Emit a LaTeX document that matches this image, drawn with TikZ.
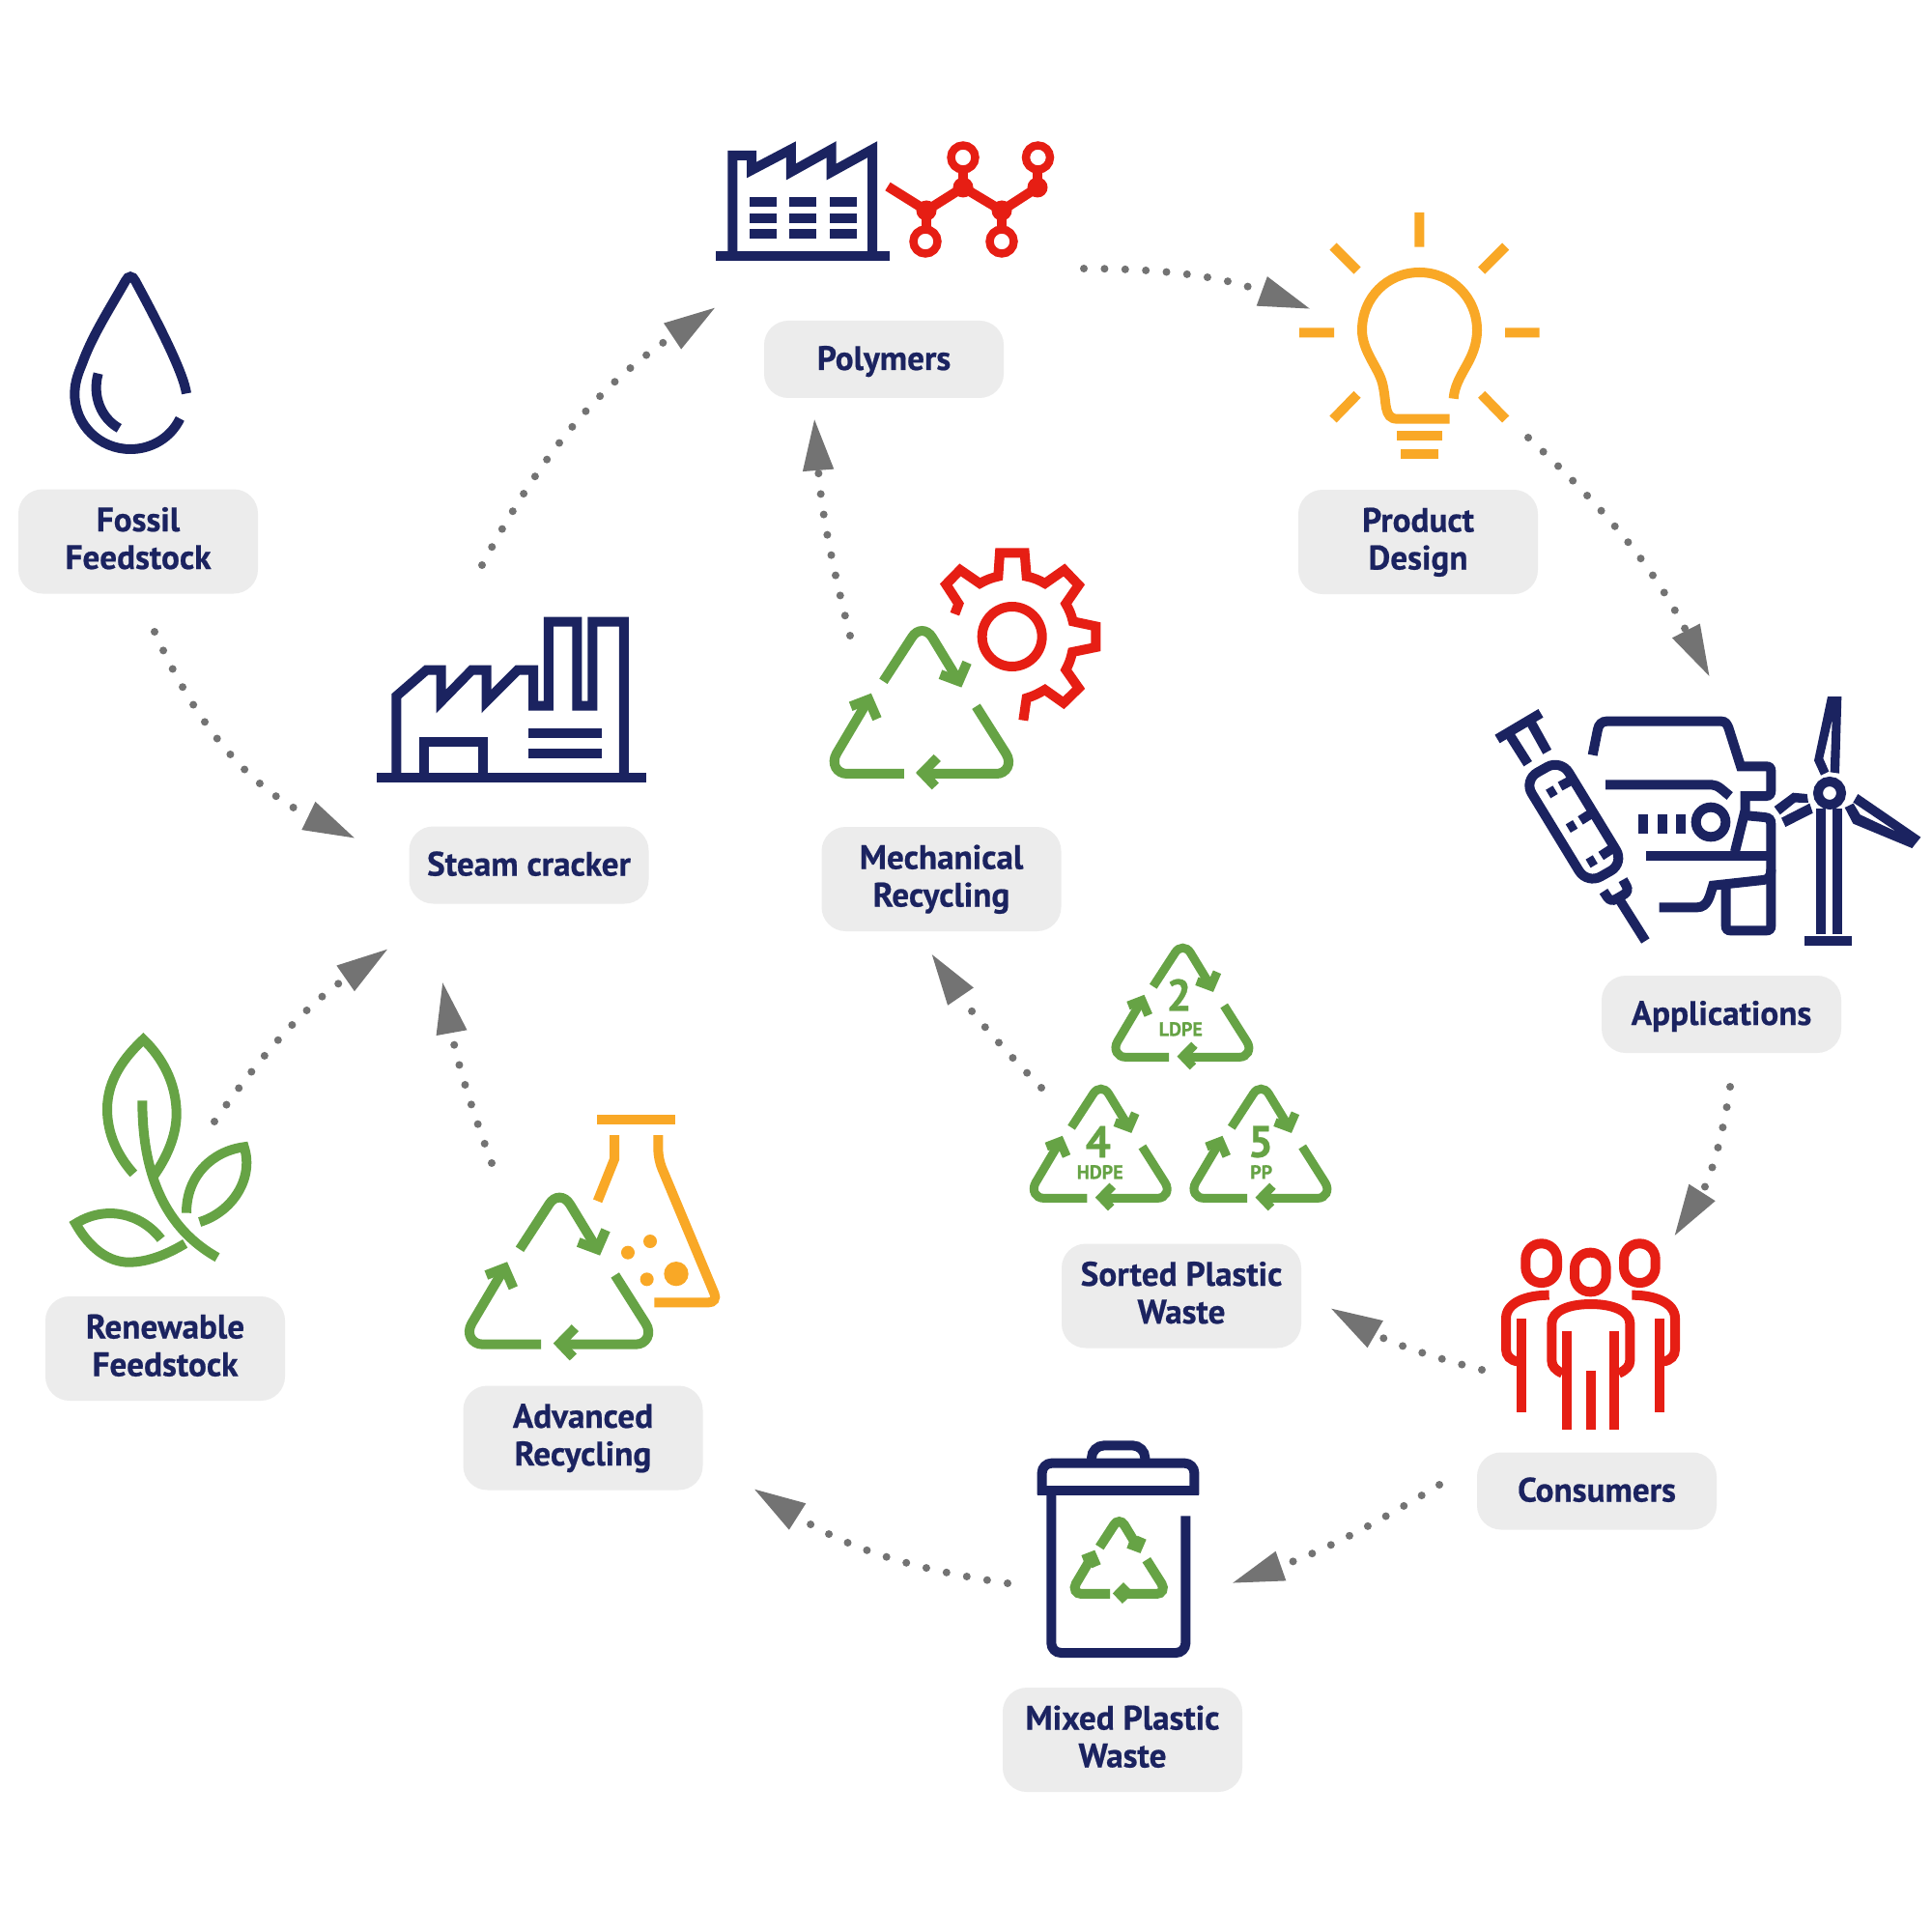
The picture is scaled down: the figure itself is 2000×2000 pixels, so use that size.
\documentclass[tikz,border=0pt]{standalone}
\usepackage{fontspec}
\setmainfont{PT Sans}[BoldFeatures={FakeBold=0.6}]
\usetikzlibrary{arrows.meta}
\definecolor{navy}{HTML}{1B2360}
\definecolor{redc}{HTML}{E61E14}
\definecolor{orng}{HTML}{F9A826}
\definecolor{grn}{HTML}{66A345}
\definecolor{boxg}{HTML}{ECECEC}
\definecolor{arrg}{HTML}{737373}
\tikzset{
  lab/.style={fill=boxg,rounded corners=12.5pt,text=navy,align=center,inner sep=0pt,
    minimum width=124pt,font=\bfseries\fontsize{17.6pt}{19.5pt}\selectfont},
  labone/.style={lab,minimum height=40pt,text height=13pt,text depth=2pt},
  labtwo/.style={lab,minimum height=54pt,text height=31.5pt,text depth=3pt},
  icon/.style={line width=5pt,line join=miter,line cap=butt,miter limit=10},
  zoomed/.style={shift={(#1)},scale=0.33333},
  flow/.style={draw=arrg,line width=4pt,line cap=round,dash pattern=on 0pt off 10.7pt,
    -{Triangle[length=27pt,width=15pt,fill=arrg]}},
  numtxt/.style={text=grn,inner sep=0pt,font=\bfseries\fontsize{23pt}{23pt}\selectfont},
  codetxt/.style={text=grn,inner sep=0pt,font=\bfseries\fontsize{10pt}{10pt}\selectfont}
}
\newcommand\recyc[4]{%
\begin{scope}[shift={(#1,#2)},scale=#3,icon,draw=grn,line width=#4pt]
\draw (-122,162) -- (-31,22) .. controls (-14,-6) and (17,-6) .. (34,22) -- (119,162);
\draw (60,140) -- (119,162) -- (145,102);
\draw (174,242) -- (269,392) .. controls (290,425) and (270,457) .. (239,457) -- (3,457);
\draw (50,406) -- (3,454) -- (44,497);
\draw (-56,457) -- (-238,457) .. controls (-270,457) and (-290,425) .. (-271,392) -- (-169,220);
\draw (-226,242) -- (-169,220) -- (-142,282);
\end{scope}}
\begin{document}
\begin{tikzpicture}[x=0.5pt,y=-0.5pt]
\useasboundingbox (0,0) rectangle (2000,2000);
\fill[white] (0,0) rectangle (2000,2000);

% labels
\node[labone] (polymers) at (915,372) {Polymers};
\node[labtwo] (fossil) at (143,560.5) {Fossil\\Feedstock};
\node[labtwo] (design) at (1468,561) {Product\\Design};
\node[labone] (apps) at (1782,1050) {Applications};
\node[labone] (consumers) at (1653,1543.5) {Consumers};
\node[labtwo] (sorted) at (1223,1341.5) {Sorted Plastic\\Waste};
\node[labtwo] (mixed) at (1162,1801) {Mixed Plastic\\Waste};
\node[labtwo] (advanced) at (603.5,1488.5) {Advanced\\Recycling};
\node[labtwo] (renew) at (171,1396) {Renewable\\Feedstock};
\node[labone] (steam) at (547.5,895.5) {Steam cracker};
\node[labtwo] (mech) at (974.5,910) {Mechanical\\Recycling};

% polymer factory
\begin{scope}[shift={(700,120)},xscale=0.4464,yscale=0.33333,icon,draw=navy,fill=navy]
\draw (92,435) -- (496,435);
\draw (131,425) -- (131,123) -- (175,123) -- (175,168) -- (266,104) -- (266,174) -- (360,104) -- (360,174) -- (455,104) -- (455,425);
\foreach \xa in {170,263,357}
  \foreach \ya in {253,303,352}
    \fill[draw=none] (\xa,\ya) rectangle ++(62,29);
\end{scope}
% molecule
\begin{scope}[icon,draw=redc]
\draw (919,193) -- (959,218) -- (997,194) -- (1037,218) -- (1074,194);
\draw (959,218) -- (959,236) (997,194) -- (997,176) (1037,218) -- (1037,236) (1074,194) -- (1074,176);
\fill[redc] (959,218) circle[radius=10.5] (997,194) circle[radius=10.5] (1037,218) circle[radius=10.5] (1074,194) circle[radius=10.5];
\draw[line width=4.2pt] (958,250) circle[radius=12.5] (1037,250) circle[radius=12.5] (997,163) circle[radius=12.5] (1074.5,163) circle[radius=12.5];
\end{scope}

% drop
\begin{scope}[zoomed={50,260},icon,draw=navy]
\draw (429,442) .. controls (420,380) and (350,240) .. (270,92) .. controls (262,75) and (248,75) .. (240,92) .. controls (190,180) and (135,265) .. (105,350) .. controls (88,390) and (82,415) .. (82,445) .. controls (82,540) and (160,615) .. (255,615) .. controls (320,615) and (380,580) .. (409,520);
\draw (155,380) .. controls (135,450) and (165,520) .. (220,550);
\end{scope}

% bulb
\begin{scope}[zoomed={1330,210},icon,draw=orng]
\draw (418,30) -- (418,137) (150,135) -- (225,210) (686,135) -- (611,210) (45,403) -- (153,403) (684,403) -- (791,403) (225,595) -- (150,672) (611,595) -- (686,672);
\draw (524,608) .. controls (530,530) and (597,490) .. (597,395) .. controls (597,295) and (518,216) .. (418,216) .. controls (318,216) and (240,295) .. (240,395) .. controls (240,460) and (290,510) .. (303,560) .. controls (318,620) and (305,671) .. (350,671) -- (512,671);
\draw (348,722) -- (488,722) (360,780) -- (476,780);
\end{scope}

% steam cracker
\begin{scope}[shift={(370,600)},xscale=0.51,yscale=0.33333,icon,draw=navy]
\draw (39,616) -- (586,616);
\draw (79,605) -- (79,362) -- (140,281) -- (170,281) -- (170,378) -- (232,281) -- (262,281) -- (262,378) -- (325,281) -- (357,281) -- (357,392) -- (388,392) -- (388,131) -- (446,131) -- (446,392) -- (477,392) -- (477,131) -- (541,131) -- (541,605);
\draw (135,605) -- (135,503) -- (255,503) -- (255,605);
\draw (347,478) -- (497,478) (347,539) -- (497,539);
\end{scope}

% mechanical recycling
\recyc{954}{652.7}{0.3245}{5}
\begin{scope}[zoomed={960,560},icon,draw=redc]
\draw (85,227) -- (97,195) -- (58,135) -- (102,90) -- (163,132) .. controls (180,122) and (200,114) .. (220,110) -- (225,37) -- (302,37) -- (308,110) .. controls (330,114) and (348,122) .. (365,132) -- (425,90) -- (470,137) -- (430,195) .. controls (440,212) and (448,230) .. (452,250) -- (523,265) -- (523,330) -- (450,345) .. controls (446,365) and (440,382) .. (430,400) -- (470,457) -- (423,503) -- (365,462) .. controls (348,472) and (330,482) .. (308,488) -- (298,557);
\draw (263,297) circle[radius=93];
\end{scope}

% applications
\begin{scope}[zoomed={1530,700},icon,draw=navy]
% syringe
\draw (60,195) -- (195,115);
\draw (100,185) -- (155,272) (165,145) -- (215,235);
\draw[rounded corners=8pt] (142,323) -- (257,258) -- (454,581) -- (339,646) -- cycle;
\draw (255,342) -- (305,315) (318,448) -- (362,420) (382,558) -- (425,530);
\draw (218,366) -- (240,353) (280,473) -- (302,460) (342,582) -- (364,569);
\draw[rounded corners=3pt] (390,668) -- (412,702) -- (470,668) -- (450,632);
\draw (440,695) -- (520,822);
% car
\draw (356,245) -- (372,165) .. controls (375,150) and (385,140) .. (400,140) -- (755,140) .. controls (768,140) and (773,148) .. (778,160) -- (816,280) -- (895,280) .. controls (905,280) and (910,285) .. (910,295) -- (910,355) .. controls (910,365) and (905,372) .. (895,372) -- (830,372) -- (830,425);
\draw (396,337) -- (725,337) .. controls (745,337) and (760,355) .. (782,372);
\draw (513,430) -- (513,488) (572,430) -- (572,488) (631,430) -- (631,488);
\draw (723,453) circle[radius=46];
\draw (522,559) -- (910,559);
\draw (798,545) -- (826,432) -- (890,438) .. controls (905,440) and (910,445) .. (910,460) -- (910,775) .. controls (910,785) and (905,790) .. (895,790) -- (785,790) .. controls (775,790) and (770,785) .. (770,775) -- (770,655);
\draw (910,600) .. controls (910,625) and (900,632) .. (885,633) -- (730,650) .. controls (720,680) and (715,718) .. (680,718) -- (563,718);
% turbine
\draw (1014,823) -- (1162,823);
\draw (1066,412) -- (1066,800) (1115,412) -- (1115,800);
\draw (1092,363) circle[radius=36];
\fill[navy] (1086,63) -- (1129,63) -- (1122,302) -- (1094,298) -- (1100,135) -- (1072,255) -- (1090,296) -- (1065,308) -- (1044,262) -- cycle;
\fill[navy] (1180,366) -- (1375,500) -- (1348,534) -- (1165,458) -- (1139,408) -- (1166,395) -- (1187,430) -- (1300,483) -- (1165,392) -- cycle;
\fill[navy] (920,405) -- (978,362) -- (1022,366) -- (1026,393) -- (985,392) -- (938,430) -- cycle;
\fill[navy] (942,440) -- (1030,395) -- (1040,425) -- (955,468) -- cycle;
\end{scope}

% sorted
\recyc{1224}{981}{0.248}{4.5}
\recyc{1139.3}{1127}{0.248}{4.5}
\recyc{1305}{1127}{0.248}{4.5}
\node[numtxt] (n2) at (1220.5,1030) {2};
\node[codetxt] (ldpe) at (1222.3,1065.3) {LDPE};
\node[numtxt] (n4) at (1136.7,1182) {4};
\node[codetxt] (hdpe) at (1138.7,1213.3) {HDPE};
\node[numtxt] (n5) at (1305,1182) {5};
\node[codetxt] (pp) at (1305.7,1213.3) {PP};

% consumers
\begin{scope}[zoomed={1530,1270},icon,draw=redc]
\draw[rounded corners=8pt] (148,52) rectangle (246,174);
\draw[rounded corners=8pt] (300,80) rectangle (398,202);
\draw[rounded corners=8pt] (453,52) rectangle (551,174);
\draw (221,212) .. controls (150,212) and (87,235) .. (87,285) -- (87,380) .. controls (87,400) and (100,416) .. (125,418);
\draw (136,286) -- (136,575);
\draw (478,212) .. controls (549,212) and (612,235) .. (612,285) -- (612,380) .. controls (612,400) and (599,416) .. (574,418);
\draw (563,286) -- (563,575);
\draw (262,455) .. controls (240,445) and (229,432) .. (229,415) -- (229,300) .. controls (229,262) and (280,240) .. (350,240) .. controls (420,240) and (472,262) .. (472,300) -- (472,415) .. controls (472,432) and (460,445) .. (437,455);
\draw (276,324) -- (276,629) (423,324) -- (423,629) (350,446) -- (350,629);
\end{scope}

% bin
\begin{scope}[zoomed={1040,1480},icon,draw=navy]
\draw[rounded corners=5pt] (116,202) -- (116,104) -- (589,104) -- (589,202);
\draw (102,188) -- (604,188);
\draw[rounded corners=6.5pt] (270,90) -- (270,49) -- (436,49) -- (436,90);
\draw[rounded corners=5pt] (145,202) -- (145,693) -- (562,693) -- (562,268);
\end{scope}
\recyc{1158.3}{1575}{0.164}{5}

% flask and advanced recycling
\begin{scope}[zoomed={460,1140},icon,draw=orng,fill=orng]
\draw (474,57) -- (718,57);
\draw (528,105) -- (528,180) -- (476,310);
\draw[rounded corners=5pt] (664,105) -- (664,180) -- (850,625) -- (652,625);
\fill (570,470) circle[radius=21] (639,435) circle[radius=21] (629,553) circle[radius=21] (720,536) circle[radius=38];
\end{scope}
\recyc{578.7}{1239.3}{0.33333}{5}

% leaves
\begin{scope}[zoomed={50,1050},icon,draw=grn]
\draw (292,268) .. controls (292,420) and (320,640) .. (525,755);
\draw (265,495) .. controls (215,440) and (183,370) .. (183,295) .. controls (183,200) and (240,130) .. (295,78) .. controls (350,130) and (398,210) .. (398,310) .. controls (398,380) and (365,450) .. (325,505);
\draw (429,617) .. controls (429,500) and (510,425) .. (608,412) .. controls (640,510) and (570,615) .. (470,645);
\draw (350,698) .. controls (290,620) and (180,590) .. (85,650) .. controls (130,730) and (190,770) .. (250,770) .. controls (310,770) and (370,745) .. (425,712);
\end{scope}

% connectors
\coordinate (a1) at (160,654);   \coordinate (b1) at (368,868);
\coordinate (a2) at (499,585);   \coordinate (b2) at (741,318);
\coordinate (a3) at (1122,278);  \coordinate (b3) at (1357,320);
\coordinate (a4) at (1582,453);  \coordinate (b4) at (1770,701);
\coordinate (a5) at (1791,1125); \coordinate (b5) at (1733,1280);
\coordinate (a6) at (1534,1418); \coordinate (b6) at (1377,1354);
\coordinate (a7) at (1490,1537); \coordinate (b7) at (1275,1639);
\coordinate (a8) at (1043,1639); \coordinate (b8) at (780,1541);
\coordinate (a9) at (509,1204);  \coordinate (b9) at (458,1016);
\coordinate (a10) at (222,1161); \coordinate (b10) at (402,982);
\coordinate (a11) at (880,658);  \coordinate (b11) at (843,433);
\coordinate (a12) at (1078,1126);\coordinate (b12) at (964,987);
\draw[flow] (a1) to[bend right=20] (b1);
\draw[flow] (a2) to[bend left=14] (b2);
\draw[flow] (a3) to[bend left=10] (b3);
\draw[flow] (a4) to[bend left=10] (b4);
\draw[flow] (a5) to[bend left=12] (b5);
\draw[flow] (a6) to[bend left=8] (b6);
\draw[flow] (a7) to[bend left=6] (b7);
\draw[flow] (a8) to[bend left=12] (b8);
\draw[flow] (a9) to[bend left=5] (b9);
\draw[flow] (a10) to[bend left=10] (b10);
\draw[flow] (a11) to[bend left=5] (b11);
\draw[flow] (a12) to[bend left=5] (b12);
\end{tikzpicture}
\end{document}
